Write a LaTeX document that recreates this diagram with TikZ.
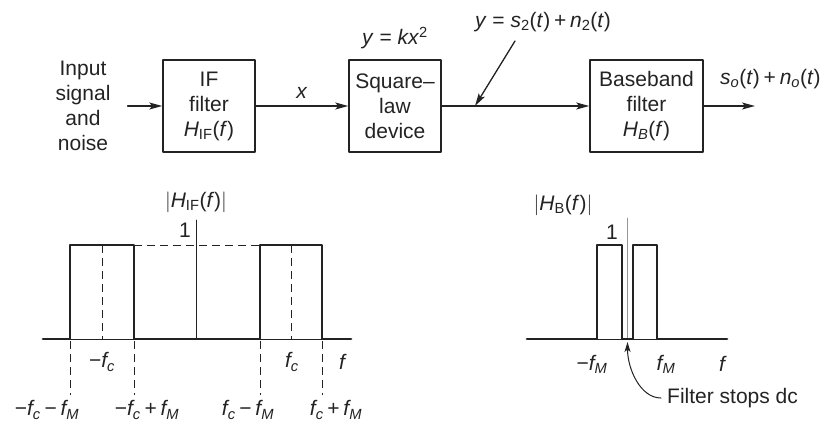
\documentclass[tikz,border=0pt]{standalone}
\usepackage{fontspec}
\setmainfont{Liberation Sans}
\usetikzlibrary{arrows.meta,positioning}
\definecolor{axisgray}{RGB}{150,150,150}
\definecolor{ink}{RGB}{35,35,35}
\newcommand{\mi}[1]{\textit{#1}}
\newcommand{\lo}[1]{\textsubscript{#1}}
\newcommand{\mns}{\hspace{.18em}−\hspace{.18em}}
\newcommand{\pls}{\hspace{.18em}+\hspace{.18em}}

\begin{document}
\begin{tikzpicture}[x=1pt,y=-1pt,>={Stealth[length=13pt,width=7pt,inset=3pt]},
  line cap=round,line join=round,color=ink,
  txt/.style={font=\fontsize{21}{25}\selectfont,inner sep=0pt},
  blockbox/.style={txt,draw,line width=1.5pt,minimum width=92pt,minimum height=92pt,align=center},
  sig/.style={->,line width=1.3pt},
  thk/.style={line width=2.8pt},
  thn/.style={line width=1pt},
  dsh/.style={line width=1pt,line cap=butt,dash pattern=on 8pt off 5pt}]
 \useasboundingbox (0,0) rectangle (830,421);
 % block diagram
 \node[txt,align=center] (input) at (83,106) {Input\\signal\\and\\noise};
 \node[blockbox] (iff) at (209,106) {IF\\filter\\\mi{H}\lo{IF}(\mi{f})};
 \node[blockbox] (sq) at (395,106) {Square–\\law\\device};
 \node[blockbox,minimum width=113pt] (bb) at (646.5,106)
  {Baseband\\filter\\\mi{H\lo{B}}(\mi{f})};
 \coordinate (out) at (755,106);
 \coordinate (tap) at (475,106);
 \coordinate (tapfrom) at (515,41);
 \draw[sig,shorten <=17pt] (input) -- (iff);
 \draw[sig] (iff) -- node[txt,above=7pt] (xlab) {\mi{x}} (sq);
 \draw[sig] (sq) -- (bb);
 \draw[sig] (bb) -- (out);
 \draw[sig] (tapfrom) -- (tap);
 \node[txt,above=10pt] (kx) at (sq.north) {\mi{y} = \mi{kx}\textsuperscript{2}};
 \node[txt] (ylab) at (543,22)
  {\mi{y} = \mi{s}\lo{2}(\mi{t})\pls\mi{n}\lo{2}(\mi{t})};
 \node[txt,anchor=west] (outlab) at (720,79)
  {\mi{s\lo{o}}(\mi{t})\pls\mi{n\lo{o}}(\mi{t})};
 % IF filter response
 \draw[thk] (43,339) -- (70,339) -- (70,245) -- (134,245) -- (134,339)
  -- (260,339) -- (260,245) -- (322,245) -- (322,339) -- (351,339);
 \draw[thn] (70,339) -- (134,339) (260,339) -- (322,339);
 \draw[thn] (196,220) -- (196,339);
 \draw[dsh] (134,245) -- (260,245);
 \foreach \x in {102,291}
  \draw[dsh] (\x,245) -- (\x,339);
 \foreach \x in {70,134,260,322}
  \draw[dsh] (\x,341) -- (\x,395);
 \node[txt] (hif) at (196,202) {$\Big|$\mi{H}\lo{IF}(\mi{f})$\Big|$};
 \node[txt] (oneif) at (185,230) {1};
 \node[txt] (mfc) at (102,362) {−\mi{f\lo{c}}};
 \node[txt] (fc) at (292,362) {\mi{f\lo{c}}};
 \node[txt] (fif) at (343,362) {\mi{f}};
 \node[txt] (lo1) at (47,410) {−\mi{f\lo{c}}\mns\mi{f\lo{M}}};
 \node[txt] (lo2) at (147,410) {−\mi{f\lo{c}}\pls\mi{f\lo{M}}};
 \node[txt] (lo3) at (248,410) {\mi{f\lo{c}}\mns\mi{f\lo{M}}};
 \node[txt] (lo4) at (336,410) {\mi{f\lo{c}}\pls\mi{f\lo{M}}};
 % baseband filter response
 \draw[axisgray,thn] (627.5,218) -- (627.5,339);
 \draw[thk] (527,339) -- (597,339) -- (597,245) -- (622,245) -- (622,339)
  -- (633,339) -- (633,245) -- (657,245) -- (657,339) -- (727,339);
 \draw[thn] (597,339) -- (622,339) (633,339) -- (657,339);
 \node[txt] (hb) at (563,205) {$\Big|$\mi{H}\lo{B}(\mi{f})$\Big|$};
 \node[txt] (oneb) at (612,232) {1};
 \node[txt] (mfm) at (592,364) {−\mi{f\lo{M}}};
 \node[txt] (fm) at (666,364) {\mi{f\lo{M}}};
 \node[txt] (fb) at (723,364) {\mi{f}};
 \node[txt,anchor=west] (dc) at (667,398) {Filter stops dc};
 \coordinate (dctip) at (627.5,342);
 \draw[thn,-{Stealth[length=10pt,width=6pt,inset=2.5pt]},shorten <=6pt]
  (dc.west) to[out=180,in=-90] (dctip);
\end{tikzpicture}
\end{document}
